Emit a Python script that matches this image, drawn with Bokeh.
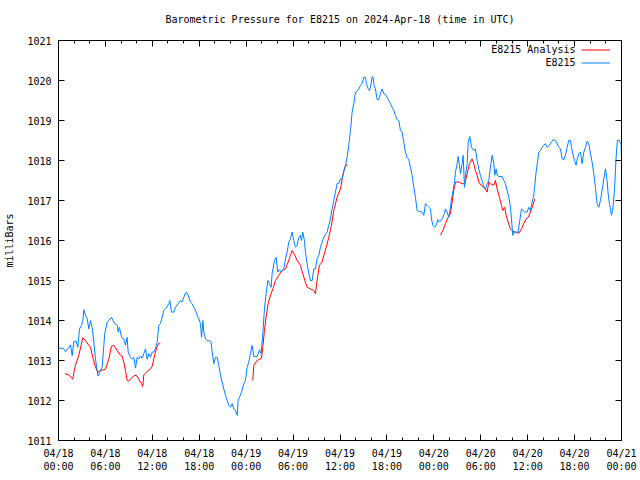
import numpy as np
from bokeh.plotting import figure
from bokeh.models import (Range1d, FixedTicker, DatetimeTickFormatter, LinearAxis, DatetimeAxis,
                          Legend, LegendItem, Label, CustomJSTickFormatter)
from bokeh.core.properties import value
from bokeh.embed import file_html
from bokeh.resources import INLINE

TITLE = "Barometric Pressure for E8215 on 2024-Apr-18 (time in UTC)"
Y_LABEL = "milliBars"
START = "2024-04-18T00:00:00"
SPAN_HOURS = 72
Y_MIN, Y_MAX = 1011, 1021

# E8215 observations: hours after 04/18 00:00 UTC, pressure in mb
blue_hours = [
    0.00, 0.26, 0.68, 0.89, 1.32, 1.53, 1.75, 1.96, 2.26, 2.47, 2.69, 2.94, 3.11, 3.24, 3.45, 3.67,
    3.88, 4.09, 4.30, 4.52, 4.73, 4.94, 5.07, 5.29, 5.58, 5.80, 5.92, 6.22, 6.44, 6.78, 6.95, 7.20,
    7.50, 7.63, 7.80, 8.06, 8.35, 8.57, 8.78, 8.91, 9.21, 9.42, 9.63, 9.85, 10.06, 10.27, 10.49,
    10.70, 10.91, 11.13, 11.34, 11.55, 11.76, 11.98, 12.19, 12.40, 12.62, 12.83, 13.04, 13.26,
    13.47, 13.68, 14.11, 14.24, 14.45, 14.75, 14.96, 15.30, 15.60, 15.81, 16.03, 16.24, 16.45,
    16.67, 16.88, 17.09, 17.31, 17.52, 17.73, 17.95, 18.16, 18.29, 18.46, 18.58, 18.80, 19.01,
    19.22, 19.52, 19.65, 19.86, 20.08, 20.29, 20.50, 20.72, 20.93, 21.14, 21.36, 21.57, 21.78,
    21.99, 22.21, 22.42, 22.63, 22.85, 22.97, 23.15, 23.40, 23.70, 23.91, 24.12, 24.34, 24.55,
    24.76, 24.98, 25.40, 25.70, 25.91, 26.13, 26.34, 26.55, 26.77, 26.98, 27.19, 27.32, 27.62,
    27.83, 28.04, 28.26, 28.51, 28.81, 29.03, 29.24, 29.45, 29.66, 29.88, 30.09, 30.30, 30.52,
    30.73, 30.94, 31.07, 31.24, 31.45, 31.58, 31.80, 32.01, 32.22, 32.44, 32.65, 32.86, 33.07,
    33.29, 33.50, 33.71, 33.93, 34.14, 34.35, 34.57, 34.78, 34.99, 35.21, 35.42, 35.63, 35.85,
    36.06, 36.27, 36.48, 36.70, 36.91, 37.12, 37.34, 37.55, 37.76, 37.98, 38.19, 38.40, 38.62,
    38.83, 39.04, 39.26, 39.38, 39.60, 39.77, 39.90, 40.11, 40.24, 40.36, 40.53, 40.75, 40.96,
    41.17, 41.39, 41.60, 41.81, 42.03, 42.24, 42.45, 42.67, 42.88, 43.09, 43.31, 43.52, 43.73,
    43.94, 44.16, 44.37, 44.58, 44.80, 45.01, 45.22, 45.44, 45.65, 45.86, 46.07, 46.50, 46.72,
    46.93, 47.14, 47.36, 47.57, 47.70, 47.87, 48.12, 48.29, 48.51, 48.72, 48.98, 49.15, 49.36,
    49.49, 49.70, 49.91, 50.13, 50.25, 50.43, 50.64, 50.77, 50.98, 51.11, 51.28, 51.41, 51.62,
    51.75, 51.92, 52.05, 52.26, 52.39, 52.60, 52.81, 53.11, 53.32, 53.54, 53.75, 53.96, 54.18,
    54.39, 54.60, 54.82, 55.03, 55.24, 55.46, 55.67, 55.80, 55.97, 56.10, 56.31, 56.73, 56.95,
    57.16, 57.37, 57.59, 57.80, 57.93, 58.10, 58.23, 58.44, 58.78, 58.99, 59.21, 59.38, 59.63,
    59.93, 60.14, 60.36, 60.57, 60.78, 60.91, 61.08, 61.29, 61.42, 61.64, 61.85, 62.06, 62.28,
    62.49, 62.79, 63.04, 63.26, 63.55, 63.77, 63.98, 64.19, 64.41, 64.62, 64.83, 65.05, 65.26,
    65.47, 65.60, 65.77, 65.98, 66.20, 66.32, 66.54, 66.75, 66.96, 67.18, 67.39, 67.60, 67.82,
    68.03, 68.24, 68.46, 68.67, 68.88, 69.10, 69.31, 69.52, 69.74, 69.95, 70.16, 70.29, 70.46,
    70.72, 70.89, 71.10, 71.31, 71.48, 71.74, 71.95, 72.00,
]
blue_mb = [
    1013.30, 1013.31, 1013.29, 1013.22, 1013.33, 1013.39, 1013.12, 1013.48, 1013.48, 1013.33,
    1013.79, 1013.88, 1014.00, 1014.27, 1014.13, 1014.04, 1013.79, 1014.00, 1013.83, 1013.46,
    1013.04, 1012.75, 1012.61, 1012.71, 1012.83, 1013.38, 1013.67, 1013.96, 1014.00, 1014.08,
    1014.00, 1013.92, 1013.88, 1013.71, 1013.83, 1013.58, 1013.54, 1013.38, 1013.58, 1013.21,
    1013.08, 1013.04, 1013.08, 1012.81, 1013.08, 1013.04, 1013.11, 1013.06, 1013.17, 1013.29,
    1013.03, 1013.17, 1013.08, 1013.21, 1013.21, 1013.29, 1013.46, 1013.88, 1013.92, 1014.08,
    1014.25, 1014.29, 1014.42, 1014.50, 1014.21, 1014.21, 1014.33, 1014.42, 1014.50, 1014.46,
    1014.58, 1014.69, 1014.69, 1014.58, 1014.46, 1014.42, 1014.33, 1014.25, 1014.13, 1014.04,
    1013.92, 1013.58, 1014.00, 1013.71, 1013.54, 1013.50, 1013.50, 1013.46, 1013.21, 1012.92,
    1013.08, 1013.08, 1012.88, 1012.63, 1012.46, 1012.29, 1012.13, 1012.00, 1011.88, 1011.83,
    1011.92, 1011.79, 1011.75, 1011.63, 1012.00, 1012.08, 1012.21, 1012.42, 1012.50, 1012.83,
    1012.96, 1013.17, 1013.38, 1013.10, 1013.10, 1013.27, 1013.17, 1013.67, 1014.29, 1014.67,
    1015.00, 1014.92, 1014.83, 1015.17, 1015.50, 1015.58, 1015.21, 1015.27, 1015.21, 1015.29,
    1015.54, 1015.71, 1015.96, 1016.04, 1016.21, 1016.00, 1015.83, 1015.88, 1016.08, 1016.13,
    1016.00, 1016.21, 1016.00, 1015.71, 1015.42, 1015.17, 1015.00, 1015.00, 1015.29, 1015.29,
    1015.54, 1015.63, 1015.83, 1015.96, 1016.08, 1016.15, 1016.21, 1016.38, 1016.54, 1016.79,
    1017.00, 1017.21, 1017.42, 1017.43, 1017.54, 1017.54, 1017.71, 1017.88, 1018.08, 1018.38,
    1018.75, 1019.21, 1019.42, 1019.71, 1019.73, 1019.79, 1019.88, 1019.92, 1020.08, 1020.08,
    1019.92, 1019.79, 1019.75, 1019.83, 1020.10, 1020.08, 1019.88, 1019.79, 1019.52, 1019.52,
    1019.67, 1019.79, 1019.67, 1019.65, 1019.58, 1019.50, 1019.42, 1019.33, 1019.25, 1019.13,
    1019.02, 1019.00, 1018.75, 1018.71, 1018.46, 1018.21, 1018.08, 1018.02, 1017.83, 1017.63,
    1017.33, 1017.08, 1016.75, 1016.73, 1016.71, 1016.63, 1016.92, 1016.88, 1016.83, 1016.79,
    1016.54, 1016.38, 1016.33, 1016.38, 1016.52, 1016.46, 1016.52, 1016.58, 1016.67, 1016.79,
    1016.71, 1016.58, 1016.83, 1017.04, 1017.21, 1017.46, 1017.71, 1017.92, 1018.10, 1017.88,
    1017.67, 1017.92, 1018.13, 1017.33, 1017.63, 1017.92, 1018.46, 1018.60, 1018.33, 1018.25,
    1018.29, 1018.00, 1017.79, 1017.63, 1017.50, 1017.33, 1017.29, 1017.42, 1017.50, 1017.83,
    1018.13, 1017.92, 1017.63, 1017.79, 1017.63, 1017.60, 1017.60, 1017.50, 1017.42, 1017.25,
    1017.08, 1016.83, 1016.54, 1016.13, 1016.21, 1016.21, 1016.21, 1016.50, 1016.79, 1016.75,
    1016.71, 1016.71, 1016.83, 1016.75, 1016.96, 1017.13, 1017.38, 1017.71, 1018.00, 1018.21,
    1018.25, 1018.33, 1018.38, 1018.42, 1018.33, 1018.38, 1018.46, 1018.52, 1018.50, 1018.42,
    1018.33, 1018.29, 1018.04, 1018.02, 1018.13, 1018.33, 1018.50, 1018.50, 1018.33, 1018.17,
    1018.00, 1017.88, 1018.02, 1018.17, 1018.21, 1017.92, 1018.21, 1018.33, 1018.48, 1018.42,
    1018.17, 1017.96, 1017.67, 1017.33, 1016.92, 1016.83, 1017.00, 1017.25, 1017.54, 1017.79,
    1017.50, 1017.17, 1016.92, 1016.63, 1016.79, 1017.25, 1018.08, 1018.50, 1018.50, 1018.40,
    1018.05,
]

# E8215 Analysis: three separate runs
red1_hours = [0.81, 1.32, 1.83, 1.96, 2.17, 2.60, 2.94, 3.11, 3.45, 3.88, 4.09, 4.39, 4.73, 5.03,
              5.37, 6.01, 6.44, 6.78, 7.08, 7.50, 7.93, 8.14, 8.35, 8.57, 8.78, 9.00, 9.42, 9.76,
              10.06, 10.27, 10.61, 10.78, 10.91, 11.34, 11.76, 11.98, 12.19, 12.40, 12.62, 12.83,
              13.04]
red1_mb = [1012.67, 1012.64, 1012.53, 1012.69, 1012.88, 1013.13, 1013.42, 1013.57, 1013.50,
           1013.38, 1013.33, 1013.08, 1012.83, 1012.71, 1012.75, 1012.78, 1013.04, 1013.36,
           1013.38, 1013.25, 1013.13, 1013.11, 1012.96, 1012.75, 1012.50, 1012.49, 1012.58,
           1012.63, 1012.61, 1012.53, 1012.42, 1012.35, 1012.64, 1012.73, 1012.79, 1012.85,
           1013.04, 1013.21, 1013.35, 1013.43, 1013.44]
red2_hours = [24.85, 24.98, 25.40, 25.96, 26.13, 26.34, 26.55, 26.81, 27.11, 27.41, 27.75, 28.17,
              28.60, 29.03, 29.37, 29.66, 29.88, 30.22, 30.52, 30.94, 31.24, 31.50, 31.80, 32.22,
              32.65, 32.86, 33.07, 33.37, 33.71, 33.93, 34.23, 34.57, 34.91, 35.21, 35.63, 36.06,
              36.36, 36.61, 36.78, 36.99]
red2_mb = [1012.50, 1012.88, 1013.00, 1013.06, 1013.33, 1013.75, 1014.08, 1014.42, 1014.63,
           1014.79, 1015.00, 1015.13, 1015.25, 1015.29, 1015.46, 1015.63, 1015.75, 1015.63,
           1015.50, 1015.38, 1015.17, 1015.00, 1014.83, 1014.79, 1014.75, 1014.67, 1015.00,
           1015.38, 1015.46, 1015.63, 1015.83, 1016.08, 1016.38, 1016.75, 1017.08, 1017.29,
           1017.63, 1017.83, 1017.88, 1017.89]
red3_hours = [48.85, 49.15, 49.49, 49.83, 50.13, 50.34, 50.55, 50.77, 51.19, 51.62, 51.96, 52.26,
              52.56, 52.90, 53.11, 53.32, 53.54, 53.75, 54.05, 54.39, 54.60, 54.82, 55.03, 55.24,
              55.67, 55.88, 56.10, 56.39, 56.65, 56.82, 57.08, 57.25, 57.50, 57.80, 58.10, 58.44,
              58.87, 59.21, 59.50, 59.80, 60.06, 60.36, 60.66, 60.91]
red3_mb = [1016.13, 1016.25, 1016.42, 1016.58, 1016.67, 1016.96, 1017.25, 1017.46, 1017.46,
           1017.42, 1017.42, 1017.67, 1017.92, 1018.04, 1017.92, 1017.75, 1017.63, 1017.46,
           1017.38, 1017.33, 1017.29, 1017.21, 1017.46, 1017.42, 1017.38, 1017.50, 1017.29,
           1017.08, 1016.88, 1016.75, 1016.83, 1016.63, 1016.46, 1016.29, 1016.23, 1016.21,
           1016.18, 1016.29, 1016.42, 1016.54, 1016.58, 1016.71, 1016.88, 1017.04]

SERIES_NAMES = ["E8215 Analysis", "E8215"]
SERIES_COLORS = ["#ff0000", "#0080ff"]
FONT = "DejaVu Sans Mono"

start = np.datetime64(START, "ms")
start_ms = start.astype(np.int64)


def to_time(hours):
    ms = np.round(np.asarray(hours, dtype=float) * 3600000).astype(np.int64)
    return start + ms.astype("timedelta64[ms]")


red_hours = red1_hours + [np.nan] + red2_hours + [np.nan] + red3_hours
red_mb = red1_mb + [np.nan] + red2_mb + [np.nan] + red3_mb
red_h = np.asarray(red_hours, dtype=float)
red_x = np.where(np.isnan(red_h), np.nan, start_ms + red_h * 3600000.0)

p = figure(width=640, height=480, x_axis_type="datetime", output_backend="svg",
           toolbar_location=None, title_location=None,
           min_border_left=58, min_border_right=19, min_border_top=40, min_border_bottom=40,
           x_range=Range1d(start_ms, start_ms + SPAN_HOURS * 3600000),
           y_range=Range1d(Y_MIN, Y_MAX))

p.background_fill_color = "white"
p.border_fill_color = "white"
p.outline_line_color = "black"
p.outline_line_width = 1
p.xgrid.grid_line_color = None
p.ygrid.grid_line_color = None

major_ms = [start_ms + h * 3600000 for h in range(0, SPAN_HOURS + 1, 6)]
minor_ms = [start_ms + h * 3600000 for h in range(0, SPAN_HOURS + 1, 2)]
xticker = FixedTicker(ticks=major_ms, minor_ticks=minor_ms)
yticker = FixedTicker(ticks=list(range(Y_MIN, Y_MAX + 1)), minor_ticks=[])

fmt = "%m/%d\n%H:%M"
xfmt = DatetimeTickFormatter(seconds=fmt, minsec=fmt, minutes=fmt, hourmin=fmt, hours=fmt,
                             days=fmt, months=fmt, years=fmt)


def style_axis(ax, minor_in):
    ax.axis_line_color = "black"
    ax.axis_line_width = 1
    ax.major_tick_in = 6
    ax.major_tick_out = 0
    ax.minor_tick_in = minor_in
    ax.minor_tick_out = 0
    ax.major_tick_line_color = "black"
    ax.major_tick_line_width = 1
    ax.minor_tick_line_color = "black"
    ax.minor_tick_line_width = 1
    ax.major_label_text_font = FONT
    ax.major_label_text_font_size = "10px"
    ax.major_label_text_color = "black"
    ax.axis_label_text_font = FONT
    ax.axis_label_text_font_size = "10px"
    ax.axis_label_text_font_style = "normal"
    ax.axis_label_text_color = "black"


xax = p.xaxis[0]
xax.ticker = xticker
xax.formatter = xfmt
style_axis(xax, 3)
xax.major_label_standoff = 7
xax.major_label_text_line_height = 1.25

yax = p.yaxis[0]
yax.ticker = yticker
style_axis(yax, 0)
yax.major_label_standoff = 7
yax.axis_label = Y_LABEL
yax.axis_label_standoff = 9

# top border: mirrored ticks, with the chart title centred above the frame
blank = CustomJSTickFormatter(code="return ''")
top = DatetimeAxis(ticker=xticker, formatter=blank)
style_axis(top, 3)
top.major_label_standoff = 0
top.major_label_text_font_size = "0px"
top.axis_label = TITLE
top.axis_label_standoff = 16
p.add_layout(top, "above")

right = LinearAxis(ticker=yticker, formatter=blank)
style_axis(right, 0)
right.major_label_standoff = 0
right.major_label_text_font_size = "0px"
p.add_layout(right, "right")

r_red = p.line(red_x, red_mb, line_color=SERIES_COLORS[0], line_width=1)
r_blue = p.line(to_time(blue_hours), blue_mb, line_color=SERIES_COLORS[1], line_width=1)

legend = Legend(items=[LegendItem(label=value(""), renderers=[r_red]),
                       LegendItem(label=value(""), renderers=[r_blue])],
                location="top_right", margin=3, padding=0, spacing=0,
                glyph_width=29, glyph_height=13, label_height=13, label_width=0,
                label_standoff=8, border_line_color=None, background_fill_alpha=0,
                label_text_font_size="10px")
p.add_layout(legend)

for i, name in enumerate(SERIES_NAMES):
    p.add_layout(Label(x=517, y=391 - 13 * i, x_units="screen", y_units="screen", text=name,
                       text_align="right", text_baseline="middle", text_font=FONT,
                       text_font_size="10px", text_color="black"))

open("out.html", "w").write(file_html(p, INLINE))
